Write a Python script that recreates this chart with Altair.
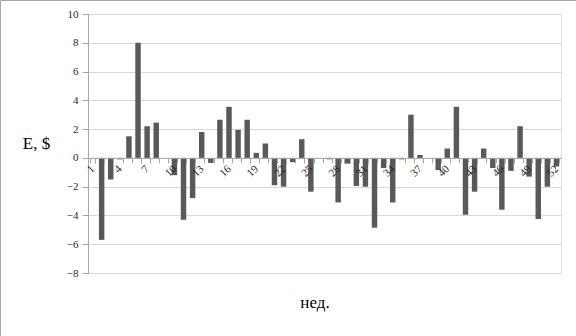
import altair as alt
import pandas as pd

weeks = list(range(1, 53))
values = [0, -5.7, -1.5, -0.1, 1.5, 8.0, 2.2, 2.45, 0, -1.2,
          -4.3, -2.8, 1.8, -0.35, 2.65, 3.55, 1.95, 2.65, 0.35, 1.0,
          -1.9, -2.0, -0.3, 1.3, -2.35, 0, -0.1, -3.1, -0.4, -1.95,
          -2.0, -4.85, -0.7, -3.1, -0.1, 3.0, 0.2, 0, -0.85, 0.65,
          3.55, -3.95, -2.35, 0.65, -0.7, -3.6, -0.9, 2.2, -1.3, -4.25,
          -2.0, -0.6]
y_ticks = list(range(-8, 11, 2))
x_title = "нед."

df = pd.DataFrame({"week": weeks, "E": values})

FONT = "Liberation Serif"
W, H = 473, 259

bars = alt.Chart(df).mark_bar(color="#595959").encode(
    x=alt.X("week:O",
            scale=alt.Scale(paddingInner=0.4, paddingOuter=0.2),
            axis=alt.Axis(
                title=None,
                offset=-115.1,
                labelAngle=-45,
                labelAlign="right",
                labelBaseline="middle",
                labelExpr="(datum.value - 1) % 3 == 0 ? datum.label : ''",
                labelFont=FONT,
                labelFontSize=11,
                labelColor="#262626",
                labelPadding=4,
                tickBand="extent",
                tickSize=5,
                tickColor="#a6a6a6",
                domainColor="#a6a6a6",
                grid=False,
                zindex=1,
            )),
    y=alt.Y("E:Q",
            scale=alt.Scale(domain=[-8, 10], nice=False),
            axis=alt.Axis(
                values=y_ticks,
                title="E, $",
                titleAngle=0,
                titleFont=FONT,
                titleFontSize=17,
                titleFontWeight="normal",
                titleColor="#000000",
                titleAlign="center",
                titleBaseline="middle",
                titleX=-52,
                titleY=129,
                labelFont=FONT,
                labelFontSize=11,
                labelColor="#262626",
                labelPadding=4,
                tickSize=6,
                tickColor="#a6a6a6",
                domainColor="#a6a6a6",
                gridColor="#d9d9d9",
            )),
)

xtitle = alt.Chart(pd.DataFrame({"t": [x_title]})).mark_text(
    font=FONT, fontSize=17, color="#000000", align="center", baseline="middle"
).encode(text="t:N", x=alt.value(227), y=alt.value(289))

border = alt.Chart(pd.DataFrame({"t": [0]})).mark_rect(
    fill=None, stroke="#a6a6a6", strokeWidth=1
).encode(
    x=alt.value(-87.5), x2=alt.value(600),
    y=alt.value(-13.5), y2=alt.value(400),
)

chart = alt.layer(bars, xtitle, border).properties(
    width=W,
    height=H,
    autosize=alt.AutoSizeParams(type="none"),
    padding={"left": 88, "top": 14, "right": 15, "bottom": 63},
).configure_view(stroke=None).configure(background="white")

chart.save("out.html", embed_options={"renderer": "svg", "actions": False})
